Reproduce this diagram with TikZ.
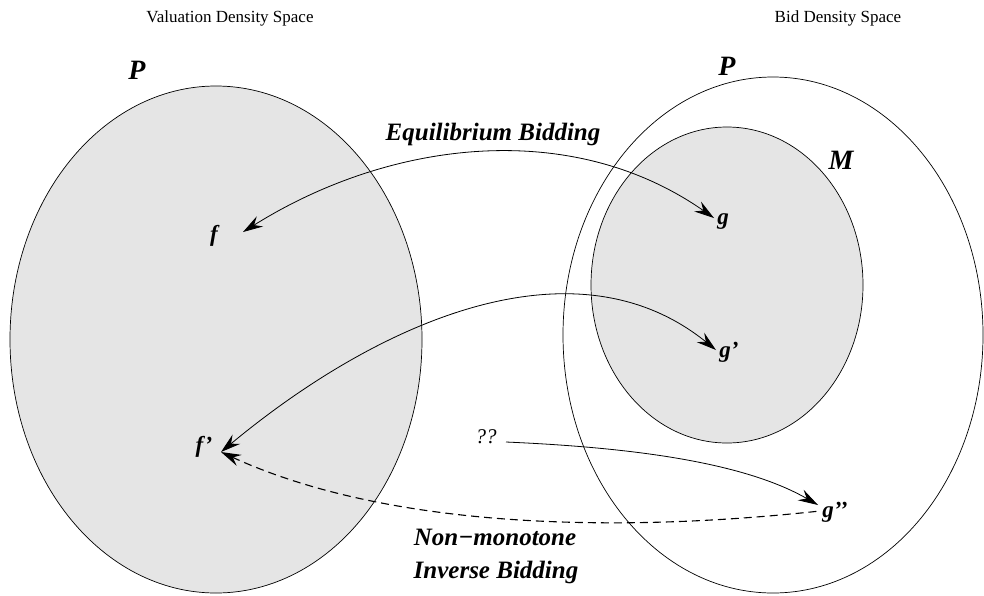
\documentclass[tikz,border=0pt]{standalone}
\usepackage{fontspec}
\setmainfont{Liberation Serif}
\usetikzlibrary{arrows.meta}
\begin{document}
\begin{tikzpicture}[x=1pt,y=-1pt,
  region/.style={draw=black,line width=0.7pt},
  shade/.style={fill=gray!20},
  lbl/.style={font=\fontsize{25}{28}\selectfont\bfseries\itshape, inner sep=0pt},
  sym/.style={font=\fontsize{23}{26}\selectfont\bfseries\itshape, inner sep=0pt},
  bigsym/.style={font=\fontsize{28}{30}\selectfont\bfseries\itshape, inner sep=0pt},
  ttl/.style={font=\fontsize{17}{20}\selectfont, inner sep=0pt},
  tip/.tip={Stealth[length=20pt,width=12pt,inset=7pt]},
  conn/.style={line width=0.8pt},
  twoway/.style={conn, tip-tip},
  oneway/.style={conn, -tip},
  backway/.style={conn, line width=1.1pt, tip-, dash pattern=on 8pt off 5pt}]
\useasboundingbox (0,0) rectangle (984,595);

% regions
\draw[region, shade] (216,339.5) ellipse [x radius=206, y radius=253.5];
\draw[region] (773,335) ellipse [x radius=210, y radius=258];
\draw[region, shade] (727,285) ellipse [x radius=136, y radius=158];

% titles and region labels
\node[ttl] (t1) at (230,18) {Valuation Density Space};
\node[ttl] (t2) at (838,18) {Bid Density Space};
\node[bigsym] (P1) at (137,70) {P};
\node[bigsym] (P2) at (727,66) {P};
\node[bigsym] (M) at (841,160) {M};

% elements
\node[sym] (f) at (214,236) {f};
\node[sym] (g) at (723,222) {g};
\node[sym] (gp) at (729,352) {g’};
\node[sym] (fp) at (204,447) {f’};
\node[sym] (gpp) at (835,512) {g’’};
\node[font=\fontsize{21}{24}\selectfont\itshape, inner sep=0pt] (qq) at (486,437) {??};

\coordinate (ftip) at (243,232);
\coordinate (gtip) at (714,218);
\coordinate (gptip) at (716,350);
\coordinate (fptip) at (221,452);
\coordinate (gpptip) at (818,505);
\coordinate (gppend) at (820,511);
\coordinate (qqstart) at (506,442);

% connectors
\draw[twoway] (ftip) .. controls (390,140) and (571,118) .. (gtip);
\draw[twoway] (fptip) .. controls (380,320) and (575,236) .. (gptip);
\draw[oneway] (qqstart) .. controls (620,447) and (740,460) .. (gpptip);
\draw[backway] (fptip) .. controls (380,525) and (600,535) .. (gppend);

% connector labels
\node[lbl] (eq) at (493,134) {Equilibrium Bidding};
\node[lbl] (nm) at (495,537) {Non−monotone};
\node[lbl] (ib) at (496,572) {Inverse Bidding};
\end{tikzpicture}
\end{document}
